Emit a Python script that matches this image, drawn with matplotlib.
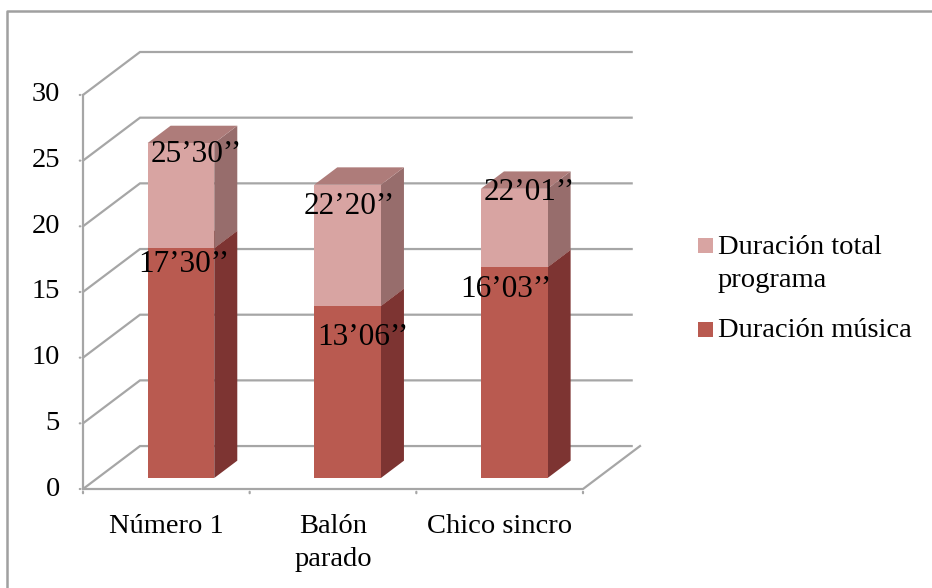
import matplotlib
matplotlib.use('Agg')
import matplotlib.pyplot as plt
from matplotlib.patches import Polygon, Rectangle
from matplotlib.lines import Line2D

plt.rcParams['font.family'] = ['Liberation Serif', 'DejaVu Serif']

# data (minutes)
categories = ['Número 1', 'Balón\nparado', 'Chico sincro']
musica = [17.5, 13.1, 16.05]
total = [25.5, 22.33, 22.02]
musica_labels = ['17’30’’', '13’06’’', '16’03’’']
total_labels = ['25’30’’', '22’20’’', '22’01’’']
series_names = ['Duración total\nprograma', 'Duración música']
yticks = [0, 5, 10, 15, 20, 25, 30]

# label anchor positions (x in category units, y in value units)
musica_label_pos = [(0.106, 17.06), (1.18, 11.5), (2.04, 15.2)]
total_label_pos = [(0.182, 25.5), (1.10, 21.48), (2.18, 22.6)]

# oblique depth projection
DX, DY = 0.342, 3.27
D0, D1 = 0.256, 0.66
BAR_W = 0.40

GRID = '#A6A6A6'
MUS_FRONT, MUS_SIDE, MUS_TOP = '#B95A50', '#7D3432', '#9A4A44'
TOT_FRONT, TOT_SIDE, TOT_TOP = '#D8A4A2', '#976D6C', '#AE7C7A'
AX_FS = 20.5
LBL_FS = 22.5


def P(x, y, d):
    return (x + DX * d, y + DY * d)


W, H = 932, 588
fig = plt.figure(figsize=(W / 100, H / 100), dpi=100)
ax = fig.add_axes([83 / W, (H - 489) / H, 557 / W, 437 / H])
ax.set_xlim(-0.5, 2.5 + DX)
ax.set_ylim(0, 30 + DY)
ax.axis('off')

x0, x1 = -0.5, 2.5

# walls and floor gridlines
for v in yticks:
    a, b = P(x0, v, 0), P(x0, v, 1)
    c = P(x1 - 0.05, v, 1)
    ax.plot([a[0], b[0], c[0]], [a[1], b[1], c[1]], color=GRID, lw=1.6,
            solid_joinstyle='miter', zorder=1, clip_on=False)
# floor front + right edges
fr = P(x1, 0, 1)
ax.plot([x0, x1, fr[0]], [0, 0, fr[1]], color=GRID, lw=1.6, zorder=1,
        clip_on=False)
# vertical axis
ax.plot([x0, x0], [0, 30], color=GRID, lw=1.6, zorder=1, clip_on=False)

# tick marks
for v in yticks:
    ax.annotate('', xy=(x0, v), xytext=(-6, 0), textcoords='offset pixels',
                arrowprops=dict(arrowstyle='-', color=GRID, lw=1.6))
    ax.annotate(str(v), xy=(x0, v), xytext=(-23, 0), textcoords='offset pixels',
                ha='right', va='center', fontsize=AX_FS)
for k in range(len(categories) + 1):
    ax.annotate('', xy=(x0 + k, 0), xytext=(0, -7), textcoords='offset pixels',
                arrowprops=dict(arrowstyle='-', color=GRID, lw=1.6))
for i, cat in enumerate(categories):
    ax.annotate(cat, xy=(i, 0), xytext=(0, -25), textcoords='offset pixels',
                ha='center', va='top', fontsize=AX_FS, linespacing=1.4)


def box(i, y0, y1, front, side, top, z):
    l, r = i - BAR_W / 2, i + BAR_W / 2
    ax.add_patch(Polygon([P(r, y0, D0), P(r, y0, D1), P(r, y1, D1), P(r, y1, D0)],
                         closed=True, fc=side, ec='none', zorder=z))
    ax.add_patch(Polygon([P(l, y1, D0), P(r, y1, D0), P(r, y1, D1), P(l, y1, D1)],
                         closed=True, fc=top, ec='none', zorder=z))
    ax.add_patch(Polygon([P(l, y0, D0), P(r, y0, D0), P(r, y1, D0), P(l, y1, D0)],
                         closed=True, fc=front, ec='none', zorder=z + 0.1))


for i in range(len(categories)):
    box(i, 0, musica[i], MUS_FRONT, MUS_SIDE, MUS_TOP, 3)
    box(i, musica[i], total[i], TOT_FRONT, TOT_SIDE, TOT_TOP, 4)

for (x, y), s in zip(musica_label_pos, musica_labels):
    ax.text(x, y, s, ha='center', va='center', fontsize=LBL_FS, zorder=10)
for (x, y), s in zip(total_label_pos, total_labels):
    ax.text(x, y, s, ha='center', va='center', fontsize=LBL_FS, zorder=10)

# legend (pixel coordinates)
def px(x, y):
    return (x / W, 1 - y / H)

leg_colors = [TOT_FRONT, MUS_FRONT]
leg_y = [246, 330]
leg_text_y = [235, 318]
for c, name, y, ty in zip(leg_colors, series_names, leg_y, leg_text_y):
    fig.patches.append(Rectangle(px(698, y + 7), 15 / W, 15 / H, fc=c, ec='none',
                                 transform=fig.transFigure, figure=fig))
    fig.text(*px(718, ty), name, ha='left', va='top', fontsize=AX_FS,
             linespacing=1.4)

# outer border (left and top only)
fig.add_artist(Line2D([7 / W, 7 / W, 1], [0, 1 - 10.5 / H, 1 - 10.5 / H],
                      color='#A0A0A0', lw=1.8, transform=fig.transFigure))

fig.savefig('out.png', dpi=100)
